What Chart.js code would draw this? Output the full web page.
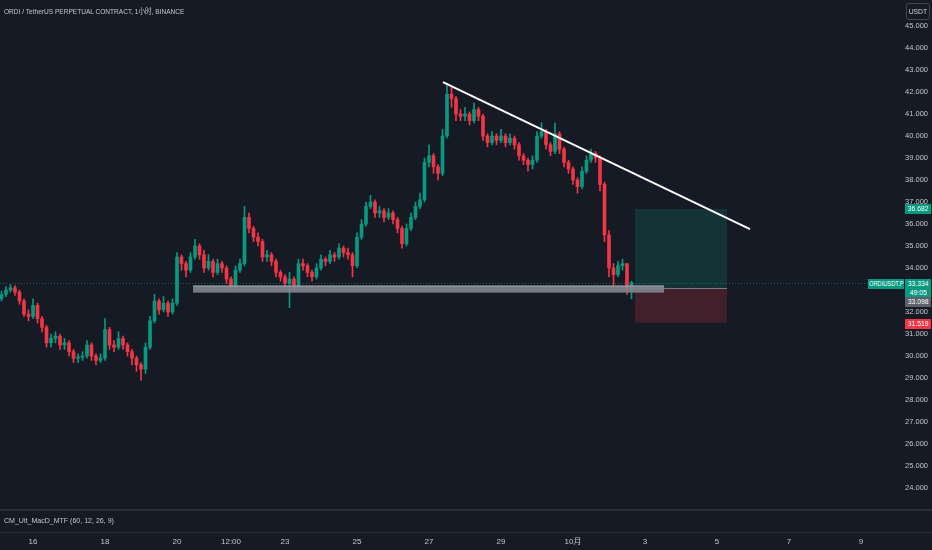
<!DOCTYPE html>
<html>
<head>
<meta charset="utf-8">
<script src="https://cdn.jsdelivr.net/npm/chart.js@4.4.1/dist/chart.umd.min.js"></script>
<style>
  body { margin: 0; background: #161a25; }
  #wrap { position: relative; width: 932px; height: 550px; background: #161a25; overflow: hidden;
    font-family: "Liberation Sans", "Noto Sans CJK SC", sans-serif; }
  #c { position: absolute; left: 0; top: 0; }
  .txt { position: absolute; color: #c3c6ce; font-size: 8px; white-space: nowrap; line-height: 10px;
    transform: scaleX(0.88); transform-origin: 0 0; }
  .tag { position: absolute; color: #fff; font-size: 8px; line-height: 9px; text-align: center; white-space: nowrap; }
  .tag span { display: inline-block; transform: scaleX(0.85); }
</style>
</head>
<body>
<div id="wrap">
  <canvas id="c" width="932" height="550"></canvas>
  <div class="txt" style="left:4px;top:7px;transform:scaleX(0.82)">ORDI / TetherUS PERPETUAL CONTRACT, 1小时, BINANCE</div>
  <div class="txt" style="left:4px;top:516px">CM_Ult_MacD_MTF (60, 12, 26, 9)</div>
  <div class="tag" style="left:906px;top:3px;width:22px;height:15px;line-height:15px;border:1px solid #434651;border-radius:3px;color:#d1d4dc"><span>USDT</span></div>
  <div class="tag" id="tagTarget" style="left:905px;width:26px;height:10px;background:#089981"><span>36.682</span></div>
  <div class="tag" id="tagName" style="left:868px;width:36px;height:10px;background:#089981;font-size:7.5px;text-align:left"><span style="transform:scaleX(0.76);transform-origin:0 0;margin-left:1px">ORDIUSDT.P</span></div>
  <div class="tag" id="tagLast" style="left:905px;width:26px;height:18px;background:#089981"><span>33.334<br>49:05</span></div>
  <div class="tag" id="tagEntry" style="left:905px;width:26px;height:10px;background:#5d606b"><span>33.098</span></div>
  <div class="tag" id="tagStop" style="left:905px;width:26px;height:10px;background:#f23645"><span>31.519</span></div>
</div>
<script>
// candle hours counted from 16 Sep 00:00, one candle every 3 hours
var firstOpen = 32.6;
var closes = [
  32.8, 33.0, 33.1, 32.9, 32.5, 31.9, 31.8, 32.3, 31.7, 31.3,
  30.6, 30.8, 30.9, 30.5, 30.6, 30.2, 29.9, 29.95, 30.0, 30.5,
  30.0, 29.8, 29.9, 31.2, 30.5, 30.4, 30.8, 30.5, 30.2, 29.9,
  29.6, 29.4, 30.4, 31.6, 32.5, 32.1, 32.4, 32.0, 32.4, 34.5,
  34.2, 33.9, 34.5, 35.0, 34.6, 34.0, 34.3, 33.8, 34.2, 34.0,
  33.5, 33.2, 33.9, 34.2, 36.3, 35.8, 35.4, 35.2, 34.5, 34.6,
  34.3, 33.8, 33.6, 33.3, 33.5, 33.2, 34.2, 34.1, 33.8, 33.6,
  34.0, 34.4, 34.3, 34.6, 34.5, 34.9, 34.7, 34.6, 34.1, 35.4,
  36.0, 36.8, 37.0, 36.5, 36.6, 36.3, 36.5, 36.2, 35.8, 35.1,
  35.8, 36.3, 36.8, 37.1, 38.8, 39.1, 38.6, 38.3, 40.0, 41.9,
  41.7, 41.0, 40.9, 41.0, 40.7, 41.2, 40.9, 40.0, 39.7, 40.0,
  39.8, 40.0, 39.7, 39.9, 39.6, 39.1, 38.9, 38.7, 38.9, 40.0,
  40.2, 39.6, 39.3, 40.1, 39.4, 38.8, 38.5, 38.0, 37.7, 38.4,
  38.9, 39.2, 39.0, 37.8, 35.5, 34.0, 33.7, 34.1, 34.2, 33.0,
  33.334
];
var highs = [
  32.95, 33.15, 33.25, 33.2, 33.0, 32.6, 32.1, 32.6, 32.4, 31.8,
  31.4, 31.0, 31.1, 31.0, 30.8, 30.7, 30.3, 30.1, 30.2, 30.7,
  30.6, 30.1, 30.1, 31.7, 31.3, 30.7, 31.1, 30.9, 30.6, 30.3,
  30.0, 29.7, 30.6, 31.8, 32.8, 32.6, 32.7, 32.5, 32.6, 34.7,
  34.6, 34.3, 34.7, 35.3, 35.1, 34.8, 34.6, 34.4, 34.4, 34.3,
  34.1, 33.6, 34.1, 34.4, 36.8, 36.5, 35.9, 35.6, 35.3, 34.8,
  34.7, 34.4, 33.9, 33.7, 33.8, 33.6, 34.4, 34.4, 34.2, 33.9,
  34.2, 34.6, 34.5, 34.8, 34.7, 35.1, 35.0, 34.9, 34.7, 35.6,
  36.2, 37.0, 37.3, 37.1, 36.8, 36.7, 36.7, 36.6, 36.3, 35.9,
  36.0, 36.5, 37.0, 37.4, 39.0, 39.6, 39.2, 38.7, 40.3, 42.4,
  42.2, 41.8, 41.2, 41.3, 41.1, 41.5, 41.3, 41.0, 40.1, 40.2,
  40.1, 40.3, 40.1, 40.1, 40.0, 39.7, 39.2, 39.0, 39.1, 40.2,
  40.6, 40.3, 39.7, 40.6, 40.2, 39.5, 38.9, 38.6, 38.1, 38.6,
  39.1, 39.4, 39.3, 39.1, 37.9, 35.7, 34.2, 34.3, 34.4, 34.2,
  33.4
];
var lows = [
  32.5, 32.7, 32.9, 32.75, 32.35, 31.8, 31.6, 31.7, 31.5, 31.1,
  30.4, 30.4, 30.6, 30.3, 30.3, 30.0, 29.7, 29.7, 29.8, 29.9,
  29.8, 29.6, 29.7, 29.8, 30.3, 30.2, 30.3, 30.3, 30.0, 29.6,
  29.3, 28.9, 29.2, 30.3, 31.5, 31.9, 32.0, 31.8, 31.9, 32.3,
  33.9, 33.6, 33.8, 34.4, 34.4, 33.8, 33.9, 33.6, 33.7, 33.8,
  33.3, 33.0, 33.1, 33.8, 34.1, 35.6, 35.2, 35.0, 34.3, 34.3,
  34.1, 33.6, 33.4, 33.1, 32.2, 33.0, 33.1, 33.9, 33.6, 33.4,
  33.5, 33.9, 34.1, 34.2, 34.3, 34.4, 34.5, 34.4, 33.6, 34.0,
  35.3, 35.9, 36.7, 36.3, 36.3, 36.1, 36.2, 36.0, 35.6, 34.9,
  35.0, 35.7, 36.2, 36.7, 37.0, 38.6, 38.3, 38.0, 38.2, 39.9,
  41.3, 40.7, 40.7, 40.7, 40.5, 40.6, 40.7, 39.8, 39.5, 39.6,
  39.6, 39.7, 39.5, 39.6, 39.4, 38.9, 38.7, 38.4, 38.5, 38.8,
  39.9, 39.4, 39.1, 39.2, 39.2, 38.6, 38.3, 37.8, 37.4, 37.6,
  38.3, 38.8, 38.8, 37.5, 35.2, 33.6, 33.2, 33.6, 33.9, 32.8,
  32.6
];
var firstHour = -21;
var stepHours = 3;

var tickHours = [0, 48, 96, 132, 168, 216, 264, 312, 360, 408, 456, 504, 552];
var tickLabels = ['16', '18', '20', '12:00', '23', '25', '27', '29', '10月', '3', '5', '7', '9'];
var priceTicks = [24, 25, 26, 27, 28, 29, 30, 31, 32, 33, 34, 35, 36, 37, 38, 39, 40, 41, 42, 43, 44, 45];

var trendHours = [273.3, 478];
var trendPrices = [42.45, 35.77];
var zoneHours = [106.7, 420.7];
var zonePrices = [32.88, 33.2];
var posHours = [401.3, 462.7];
var targetPrice = 36.682;
var entryPrice = 33.098;
var stopPrice = 31.519;
var lastPrice = 33.334;

var UP = '#089981';
var DOWN = '#f23645';
var FONT = '"Liberation Sans", "Noto Sans CJK SC", sans-serif';

var wicks = [], bodies = [], colors = [];
for (var i = 0; i < closes.length; i++) {
  var t = firstHour + stepHours * i;
  var o = i == 0 ? firstOpen : closes[i - 1];
  wicks.push({x: t, y: [lows[i], highs[i]]});
  bodies.push({x: t, y: [o, closes[i]]});
  colors.push(closes[i] >= o ? UP : DOWN);
}

var overlay = {
  id: 'overlay',
  beforeDatasetsDraw: function(chart) {
    var c = chart.ctx, xs = chart.scales.x, ys = chart.scales.y, a = chart.chartArea;
    var x0 = xs.getPixelForValue(posHours[0]), x1 = xs.getPixelForValue(posHours[1]);
    var yT = ys.getPixelForValue(targetPrice), yE = ys.getPixelForValue(entryPrice), yS = ys.getPixelForValue(stopPrice);
    c.save();
    c.fillStyle = 'rgba(8,153,129,0.2)';
    c.fillRect(x0, yT, x1 - x0, yE - yT);
    c.fillStyle = 'rgba(242,54,69,0.2)';
    c.fillRect(x0, yE, x1 - x0, yS - yE);
    c.strokeStyle = '#787b86';
    c.lineWidth = 1;
    c.beginPath();
    c.moveTo(x0, Math.round(yE) + 0.5);
    c.lineTo(x1, Math.round(yE) + 0.5);
    c.stroke();
    // last price line
    var yL = Math.round(ys.getPixelForValue(lastPrice)) + 0.5;
    c.strokeStyle = 'rgba(8,153,129,0.6)';
    c.setLineDash([1, 2]);
    c.beginPath();
    c.moveTo(a.left, yL);
    c.lineTo(a.right, yL);
    c.stroke();
    c.restore();
  },
  afterDatasetsDraw: function(chart) {
    var c = chart.ctx, xs = chart.scales.x, ys = chart.scales.y, a = chart.chartArea;
    var x0 = xs.getPixelForValue(zoneHours[0]), x1 = xs.getPixelForValue(zoneHours[1]);
    var yTop = ys.getPixelForValue(zonePrices[1]), yBot = ys.getPixelForValue(zonePrices[0]);
    c.save();
    c.fillStyle = 'rgba(128,131,141,0.92)';
    c.fillRect(x0, yTop, x1 - x0, yBot - yTop);
    c.fillStyle = 'rgba(170,172,180,0.9)';
    c.fillRect(x0, yTop, x1 - x0, 1);
    // indicator pane
    var ySplit = ys.getPixelForValue(23);
    c.fillStyle = '#161a25';
    c.fillRect(0, ySplit, chart.width, a.bottom - ySplit);
    c.fillStyle = '#2a2e39';
    c.fillRect(0, ySplit - 1, chart.width, 2);
    c.fillRect(0, a.bottom, chart.width, 1);
    c.restore();
  }
};

var chart = new Chart(document.getElementById('c').getContext('2d'), {
  type: 'bar',
  data: {
    datasets: [
      {
        type: 'line',
        data: [{x: trendHours[0], y: trendPrices[0]}, {x: trendHours[1], y: trendPrices[1]}],
        borderColor: '#ffffff',
        borderWidth: 2,
        pointRadius: 0,
        order: 0
      },
      {
        data: bodies,
        backgroundColor: colors,
        barThickness: 3,
        minBarLength: 1,
        grouped: false,
        order: 1
      },
      {
        data: wicks,
        backgroundColor: colors,
        barThickness: 1,
        grouped: false,
        order: 2
      }
    ]
  },
  options: {
    responsive: false,
    animation: false,
    events: [],
    layout: {padding: {right: 4}},
    plugins: {legend: {display: false}, tooltip: {enabled: false}},
    scales: {
      x: {
        type: 'linear',
        min: -22,
        max: 576,
        offset: false,
        grid: {display: false, drawTicks: false},
        border: {display: false},
        afterBuildTicks: function(scale) {
          scale.ticks = tickHours.map(function(v) { return {value: v}; });
        },
        afterFit: function(scale) {
          scale.height = 18;
          scale.paddingLeft = 0;
          scale.paddingRight = 0;
        },
        ticks: {
          autoSkip: false,
          maxRotation: 0,
          padding: 5,
          color: '#c3c6ce',
          font: {family: FONT, size: 8},
          callback: function(v) { return tickLabels[tickHours.indexOf(v)]; }
        }
      },
      y: {
        type: 'linear',
        position: 'right',
        min: 22,
        max: 46.1818,
        grid: {display: false, drawTicks: false},
        border: {display: false},
        afterBuildTicks: function(scale) {
          scale.ticks = priceTicks.map(function(v) { return {value: v}; });
        },
        afterFit: function(scale) {
          scale.width = 31;
          scale.paddingTop = 0;
          scale.paddingBottom = 0;
        },
        ticks: {
          padding: 4,
          crossAlign: 'far',
          color: '#c3c6ce',
          font: {family: FONT, size: 7.5},
          callback: function(v) { return v.toFixed(3); }
        }
      }
    }
  },
  plugins: [overlay]
});

function placeTag(id, top) {
  document.getElementById(id).style.top = Math.round(top) + 'px';
}
var ys = chart.scales.y;
var yLast = ys.getPixelForValue(lastPrice);
placeTag('tagTarget', ys.getPixelForValue(targetPrice) - 5);
placeTag('tagName', yLast - 4);
placeTag('tagLast', yLast - 4);
placeTag('tagEntry', yLast + 14);
placeTag('tagStop', ys.getPixelForValue(stopPrice) - 4);
</script>
</body>
</html>
